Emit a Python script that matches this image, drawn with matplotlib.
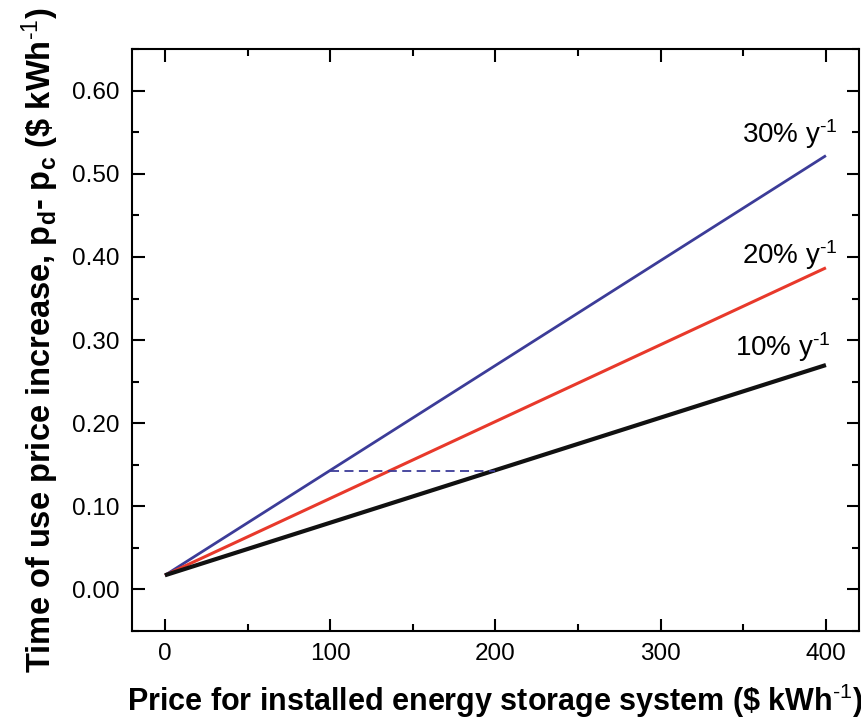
import numpy as np
from matplotlib import pyplot as plt
from matplotlib.ticker import MultipleLocator

plt.rcParams['font.family'] = ['Liberation Sans', 'DejaVu Sans']
plt.rcParams['mathtext.fontset'] = 'custom'
plt.rcParams['mathtext.rm'] = 'Liberation Sans'
plt.rcParams['mathtext.it'] = 'Liberation Sans'
plt.rcParams['mathtext.bf'] = 'Liberation Sans:bold'

# storage price ($/kWh) and required price spread for each rate
price = [0, 400]
rates = ['30%', '20%', '10%']
spread_30 = [0.017, 0.522]
spread_20 = [0.017, 0.387]
spread_10 = [0.017, 0.270]
colors = ['#3c3c98', '#e8392b', '#111111']
widths = [2.0, 2.2, 3.0]

# dashed guide line
dash_x = [100, 200]
dash_y = [0.142, 0.142]

# label positions
label_x = [349, 349, 345]
label_y = [0.548, 0.402, 0.291]

fig = plt.figure(figsize=(8.62, 7.24), dpi=100)
ax = fig.add_axes([0.153, 0.1285, 0.8435, 0.8035])

for ys, c, w in zip([spread_30, spread_20, spread_10], colors, widths):
	ax.plot(price, ys, color=c, lw=w, solid_capstyle='butt')
ax.plot(dash_x, dash_y, color='#3c3c98', lw=1.3, ls=(0, (5, 3)))

for r, lx, ly in zip(rates, label_x, label_y):
	ax.text(lx, ly, r + ' y$^{\\text{-1}}$', fontsize=20, va='center', ha='left')

ax.set_xlim(-20, 420)
ax.set_ylim(-0.05, 0.65)
ax.xaxis.set_major_locator(MultipleLocator(100))
ax.xaxis.set_minor_locator(MultipleLocator(50))
ax.yaxis.set_major_locator(MultipleLocator(0.1))
ax.yaxis.set_minor_locator(MultipleLocator(0.05))
ax.set_yticks(np.arange(0, 0.61, 0.1))
ax.set_yticklabels(['%.2f' % v for v in np.arange(0, 0.61, 0.1)])
ax.tick_params(which='both', direction='in', top=True, right=True, width=1.5, labelsize=17.5, pad=9)
ax.tick_params(which='major', length=9)
ax.tick_params(which='minor', length=5)
for s in ax.spines.values():
	s.set_linewidth(1.5)

ax.set_xlabel('Price for installed energy storage system (\\$ kWh$^{\\text{-1}}$)',
	fontsize=22, fontweight='bold', labelpad=12)
ax.set_ylabel('Time of use price increase, p$_\\mathbf{d}$- p$_\\mathbf{c}$ (\\$ kWh$^{\\text{-1}}$)',
	fontsize=23.5, fontweight='bold', labelpad=8)

fig.savefig('out.png', dpi=100)
